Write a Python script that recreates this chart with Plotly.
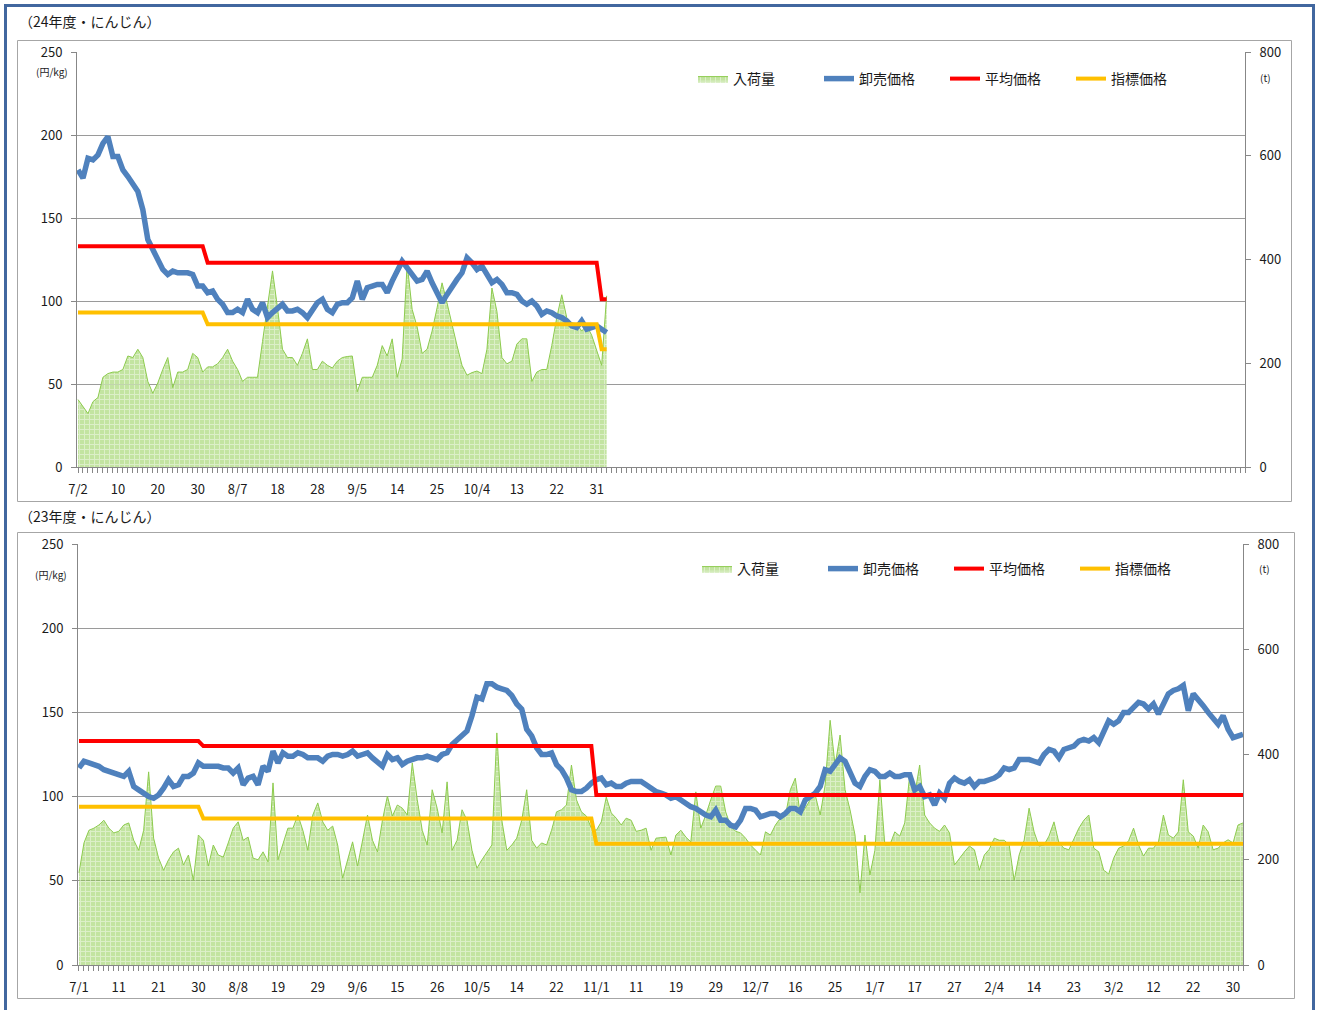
import plotly.graph_objects as go

W, H = 1317, 1010

# ---------------- data: 24年度 ----------------
labels24 = ["7/2", "10", "20", "30", "8/7", "18", "28", "9/5", "14", "25", "10/4", "13", "22", "31"]
vol24 = [130, 116, 103, 126, 134, 173, 180, 183, 183, 188,
         214, 211, 227, 211, 165, 142, 162, 188, 211, 153,
         183, 183, 188, 219, 211, 183, 193, 193, 199, 211,
         227, 204, 188, 165, 173, 173, 173, 242, 307, 378,
         307, 227, 211, 211, 196, 219, 247, 188, 188, 204,
         196, 191, 204, 211, 213, 214, 145, 173, 173, 173,
         196, 234, 214, 247, 173, 208, 392, 304, 270, 219,
         227, 262, 307, 355, 316, 273, 234, 196, 177, 182,
         185, 180, 227, 345, 300, 211, 199, 204, 237, 247,
         247, 165, 183, 188, 188, 234, 288, 332, 288, 278,
         276, 262, 273, 254, 224, 196, 330]
price24 = [179, 174, 186, 185, 188, 195, 199, 187, 187, 179,
           175, 171, 166, 155, 137, 131, 124, 119, 116, 118,
           117, 117, 117, 116, 109, 109, 105, 106, 101, 98,
           93, 93, 95, 93, 101, 95, 93, 99, 90, 93,
           96, 98, 94, 94, 95, 93, 90, 94, 99, 101,
           95, 93, 98, 99, 99, 102, 112, 101, 108, 109,
           110, 110, 105, 112, 118, 124, 120, 116, 112, 113,
           118, 111, 105, 99, 104, 109, 113, 117, 126, 123,
           119, 121, 116, 111, 113, 110, 105, 105, 104, 100,
           98, 100, 97, 92, 94, 93, 91, 90, 88, 85,
           84, 88, 83, 84, 85, 83, 81]
avg24 = [133] * 26 + [123] * 79 + [101] * 2
idx24 = [93] * 26 + [86] * 79 + [71] * 2

# ---------------- data: 23年度 ----------------
labels23 = ["7/1", "11", "21", "30", "8/8", "19", "29", "9/6", "15", "26", "10/5", "14", "22",
            "11/1", "11", "19", "29", "12/7", "16", "25", "1/7", "17", "27", "2/4", "14", "23",
            "3/2", "12", "22", "30"]
vol23 = [175, 232, 256, 260, 266, 275, 260, 251, 254, 266,
         270, 237, 218, 256, 367, 241, 203, 180, 200, 215,
         222, 190, 209, 161, 247, 237, 188, 228, 209, 205,
         232, 260, 272, 237, 243, 203, 200, 215, 196, 346,
         200, 228, 260, 260, 285, 256, 218, 285, 308, 272,
         256, 264, 228, 165, 200, 234, 188, 237, 285, 237,
         215, 275, 321, 283, 304, 298, 285, 384, 314, 256,
         228, 333, 298, 251, 348, 218, 237, 295, 275, 218,
         184, 200, 215, 228, 441, 275, 218, 228, 241, 275,
         333, 237, 222, 232, 228, 256, 291, 295, 304, 380,
         314, 291, 283, 260, 256, 272, 319, 289, 279, 266,
         279, 275, 254, 256, 260, 218, 241, 242, 243, 209,
         247, 256, 243, 234, 329, 260, 285, 314, 340, 340,
         291, 264, 254, 251, 241, 228, 218, 209, 253, 247,
         266, 279, 283, 333, 355, 285, 298, 314, 323, 285,
         342, 465, 380, 437, 333, 295, 247, 137, 247, 171,
         218, 352, 228, 228, 253, 245, 270, 361, 323, 380,
         285, 270, 260, 254, 266, 251, 190, 203, 215, 226,
         219, 180, 209, 220, 241, 237, 237, 228, 161, 209,
         237, 298, 253, 226, 228, 245, 272, 232, 222, 219,
         241, 260, 275, 285, 222, 215, 180, 173, 203, 222,
         226, 236, 260, 228, 207, 222, 222, 234, 285, 247,
         241, 253, 352, 253, 245, 222, 266, 253, 219, 222,
         232, 238, 232, 266, 270]
price23 = [117, 121, 120, 119, 118, 116, 115, 114, 113, 112,
           115, 106, 104, 102, 100, 99, 101, 105, 110, 106,
           107, 112, 112, 114, 120, 118, 118, 118, 118, 117,
           117, 114, 117, 107, 111, 112, 107, 118, 115, 127,
           120, 126, 124, 124, 126, 125, 123, 123, 123, 121,
           124, 125, 125, 124, 125, 127, 124, 125, 126, 123,
           120, 118, 125, 122, 123, 119, 121, 122, 123, 123,
           124, 123, 122, 125, 126, 131, 134, 136, 139, 148,
           159, 158, 167, 167, 165, 164, 163, 160, 155, 152,
           140, 136, 129, 125, 125, 126, 119, 116, 111, 104,
           103, 103, 105, 108, 110, 111, 107, 108, 106, 106,
           108, 109, 109, 109, 107, 105, 103, 102, 101, 99,
           100, 98, 96, 94, 93, 91, 89, 88, 92, 86,
           86, 83, 82, 86, 93, 93, 92, 88, 89, 90,
           90, 88, 90, 93, 93, 91, 98, 100, 102, 106,
           116, 115, 119, 123, 121, 115, 108, 106, 112, 116,
           115, 112, 112, 114, 112, 112, 113, 113, 104, 106,
           100, 101, 95, 102, 99, 108, 111, 109, 108, 110,
           106, 109, 109, 110, 111, 113, 117, 116, 117, 122,
           122, 122, 121, 120, 125, 128, 127, 123, 128, 129,
           130, 133, 134, 133, 135, 132, 139, 145, 143, 145,
           150, 150, 153, 156, 155, 152, 155, 149, 155, 161,
           163, 164, 166, 151, 161, 158, 154, 150, 147, 143,
           148, 140, 135, 136, 137]
avg23 = [133] * 25 + [130] * 79 + [101] * 131
idx23 = [94] * 25 + [87] * 79 + [72] * 131

N_CAT = 235  # trading-day slots on each category axis

# ---------------- styling ----------------
FONT = "Noto Sans CJK JP"
C_VOL_LINE = "#8DCB4E"
C_BLUE = "#4F81BD"
C_RED = "#FF0000"
C_ORANGE = "#FFC000"
C_AXIS = "#878787"
C_GRID = "#9A9A9A"


def px_x(p):
    return p / W


def px_y(p):
    return 1 - p / H


fig = go.Figure()


def add_chart(vol, price, avg, idx, xa, ya_t, ya_p, legend):
    fig.add_trace(go.Scatter(
        x=list(range(len(vol))), y=vol, name="入荷量", mode="lines", fill="tozeroy",
        line=dict(color=C_VOL_LINE, width=1),
        fillcolor="rgba(150,208,90,0.55)",
        fillpattern=dict(shape="+", bgcolor="rgba(146,206,84,0.55)",
                         fgcolor="rgba(255,255,255,0.85)", size=5, solidity=0.35),
        xaxis=xa, yaxis=ya_t, legend=legend))
    fig.add_trace(go.Scatter(
        x=list(range(len(price))), y=price, name="卸売価格", mode="lines",
        line=dict(color=C_BLUE, width=5.5), xaxis=xa, yaxis=ya_p, legend=legend))
    fig.add_trace(go.Scatter(
        x=list(range(len(avg))), y=avg, name="平均価格", mode="lines",
        line=dict(color=C_RED, width=4), xaxis=xa, yaxis=ya_p, legend=legend))
    fig.add_trace(go.Scatter(
        x=list(range(len(idx))), y=idx, name="指標価格", mode="lines",
        line=dict(color=C_ORANGE, width=4), xaxis=xa, yaxis=ya_p, legend=legend))


add_chart(vol24, price24, avg24, idx24, "x", "y", "y2", "legend")
add_chart(vol23, price23, avg23, idx23, "x2", "y3", "y4", "legend2")


def xaxis_cfg(dom, labels, anchor):
    return dict(
        domain=dom, anchor=anchor, range=[-0.2, N_CAT - 1],
        tickmode="array", tickvals=[8 * k for k in range(len(labels))], ticktext=labels,
        ticks="outside", ticklen=5, tickcolor=C_AXIS, tickwidth=1,
        showline=True, linecolor=C_AXIS, linewidth=1, showgrid=False, zeroline=False,
        minor=dict(ticks="outside", ticklen=5, tickcolor=C_AXIS, tickwidth=1,
                   dtick=1, tick0=0, showgrid=False),
        tickfont=dict(family=FONT, size=13, color="#1a1a1a"), ticklabelstandoff=5,
        fixedrange=True,
    )


def t_axis_cfg(dom, anchor):
    return dict(
        domain=dom, anchor=anchor, side="right", range=[0, 800], dtick=200,
        showgrid=False, zeroline=False, showline=True, linecolor=C_AXIS,
        ticks="outside", ticklen=5, tickcolor=C_AXIS,
        tickfont=dict(family=FONT, size=13, color="#1a1a1a"), ticklabelstandoff=6,
    )


def p_axis_cfg(over, anchor):
    return dict(
        overlaying=over, anchor=anchor, side="left", range=[0, 250], dtick=50,
        showgrid=True, gridcolor=C_GRID, gridwidth=1, zeroline=False,
        showline=True, linecolor=C_AXIS, ticks="outside", ticklen=5, tickcolor=C_AXIS,
        tickfont=dict(family=FONT, size=13, color="#1a1a1a"), ticklabelstandoff=6,
    )


top_x = [px_x(77), px_x(1245)]
top_y = [px_y(467), px_y(52)]
bot_x = [px_x(78), px_x(1243)]
bot_y = [px_y(965), px_y(544)]

legend_common = dict(
    orientation="h", xanchor="left", yanchor="middle",
    font=dict(family=FONT, size=14, color="#1a1a1a"),
    bgcolor="rgba(0,0,0,0)", itemwidth=30, entrywidth=81, traceorder="normal",
)

fig.update_layout(
    autosize=True,
    margin=dict(l=0, r=0, t=0, b=0, autoexpand=False),
    paper_bgcolor="white", plot_bgcolor="rgba(0,0,0,0)",
    font=dict(family=FONT, size=13, color="#1a1a1a"),
    xaxis=xaxis_cfg(top_x, labels24, "y"),
    yaxis=t_axis_cfg(top_y, "x"),
    yaxis2=p_axis_cfg("y", "x"),
    xaxis2=xaxis_cfg(bot_x, labels23, "y3"),
    yaxis3=t_axis_cfg(bot_y, "x2"),
    yaxis4=p_axis_cfg("y3", "x2"),
    legend=dict(legend_common, x=px_x(693), y=px_y(79)),
    legend2=dict(legend_common, x=px_x(697), y=px_y(569)),
    showlegend=True,
)

shapes = [
    # outer blue frame
    dict(type="rect", xref="paper", yref="paper", x0=px_x(5.5), x1=px_x(1313.5),
         y0=-0.02, y1=px_y(5.5), line=dict(color="#41679F", width=3), layer="below"),
    # chart frames
    dict(type="rect", xref="paper", yref="paper", x0=px_x(17.5), x1=px_x(1291.5),
         y0=px_y(501.5), y1=px_y(40.5), line=dict(color="#A6A6A6", width=1), layer="below"),
    dict(type="rect", xref="paper", yref="paper", x0=px_x(17.5), x1=px_x(1294.5),
         y0=px_y(998.5), y1=px_y(532.5), line=dict(color="#A6A6A6", width=1), layer="below"),
]
fig.update_layout(shapes=shapes)

annotations = []
for (t, x, y) in [("（24年度・にんじん）", 17, 21), ("（23年度・にんじん）", 17, 516)]:
    annotations.append(dict(text=t, x=px_x(x), y=px_y(y), xref="paper", yref="paper",
                            xanchor="left", yanchor="middle", showarrow=False,
                            font=dict(family=FONT, size=14, color="#1a1a1a")))
for (t, x, y) in [("(円/kg)", 52, 72), ("(t)", 1265, 78), ("(円/kg)", 51, 574), ("(t)", 1264, 568)]:
    annotations.append(dict(text=t, x=px_x(x), y=px_y(y), xref="paper", yref="paper",
                            xanchor="center", yanchor="middle", showarrow=False,
                            font=dict(family=FONT, size=10, color="#1a1a1a")))
fig.update_layout(annotations=annotations)

PAGE_FIX = (
    "document.documentElement.style.margin='0';"
    "document.documentElement.style.overflow='hidden';"
    "document.body.style.margin='0';"
    "document.body.style.overflow='hidden';"
)

# the graph div is pinned to the top-left corner and sized to the window
fig.write_html("out.html", include_plotlyjs=True, full_html=True,
               config=dict(displayModeBar=False, responsive=True),
               default_width="100vw",
               default_height="100vh; position:fixed; left:0; top:0; margin:0",
               post_script=PAGE_FIX)
